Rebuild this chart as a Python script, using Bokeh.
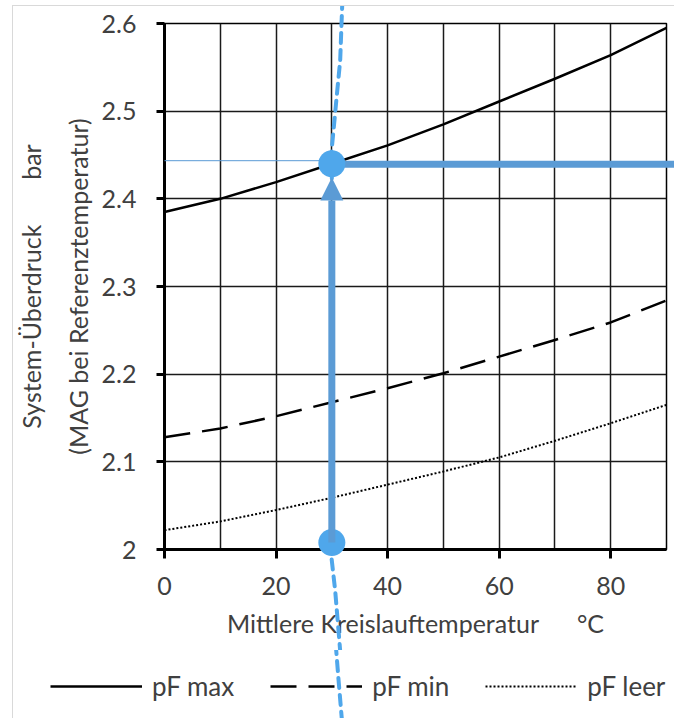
import numpy as np
from bokeh.plotting import figure
from bokeh.layouts import column
from bokeh.models import (FixedTicker, CustomJSTickFormatter, Legend, LegendItem,
                          Arrow, NormalHead, Range1d)
from bokeh.embed import file_html
from bokeh.resources import INLINE

# ---------------- data ----------------
temps = [0, 10, 20, 30, 40, 50, 60, 70, 80, 90]
pf_max = [2.385, 2.400, 2.419, 2.440, 2.461, 2.485, 2.511, 2.537, 2.564, 2.595]
pf_min = [2.128, 2.138, 2.152, 2.168, 2.184, 2.201, 2.220, 2.239, 2.259, 2.284]
pf_leer = [2.022, 2.032, 2.045, 2.059, 2.074, 2.089, 2.105, 2.124, 2.144, 2.165]

x_ticks = [0, 20, 40, 60, 80]
x_grid = [0, 10, 20, 30, 40, 50, 60, 70, 80, 90]
y_ticks = [2.0, 2.1, 2.2, 2.3, 2.4, 2.5, 2.6]

# reading example: chosen temperature and resulting pressure
sel_t = 30
sel_p = 2.44
start_p = 2.008
arrow_tip_p = 2.4244
thin_p = 2.4435
thick_p = 2.4395
thick_end_t = 93

# blue dashed guide curve (hand drawn in the original)
guide_t = [31.9, 31.5, 30.8, 30.3, 29.95, 30.0, 30.0, 29.95, 30.6, 31.35, 31.9, 32.5]
guide_p = [2.628, 2.558, 2.512, 2.478, 2.455, 2.440, 2.008, 1.990, 1.953, 1.896, 1.851, 1.805]

labels = ["pF max", "pF min", "pF leer"]

FONT = "Lato"
TXT = "#404040"
BLUE = "#5B9BD5"
BLUE2 = "#4FA7EB"
NB = "\u00a0"

# ---------------- layout constants ----------------
W = 661
H_MAIN = 644
H_LEG = 68
B_LEFT, B_RIGHT, B_TOP, B_BOTTOM = 145, 8, 17, 101
X0, X1 = 0, 90
Y0, Y1 = 2.0, 2.6

p = figure(width=W, height=H_MAIN, x_range=(X0, X1), y_range=(Y0, Y1),
           output_backend="svg", toolbar_location=None,
           min_border_left=B_LEFT, min_border_right=B_RIGHT, min_border_top=B_TOP,
           min_border_bottom=B_BOTTOM, border_fill_color="white",
           background_fill_color="white")

p.outline_line_color = "black"
p.outline_line_width = 1.5

# axes
p.xaxis.ticker = FixedTicker(ticks=x_ticks)
p.yaxis.ticker = FixedTicker(ticks=y_ticks)
p.xgrid.ticker = FixedTicker(ticks=x_grid)
p.ygrid.ticker = FixedTicker(ticks=y_ticks)
p.yaxis.formatter = CustomJSTickFormatter(code="return tick.toFixed(1).replace(/\\.0$/, '')")
for g in (p.xgrid, p.ygrid):
    g.grid_line_color = "#1a1a1a"
    g.grid_line_width = 1.5

for ax in (p.xaxis, p.yaxis):
    ax.axis_line_color = "black"
    ax.axis_line_width = 3
    ax.major_tick_line_color = "black"
    ax.major_tick_line_width = 3
    ax.major_tick_in = 0
    ax.minor_tick_line_color = None
    ax.major_label_text_font = FONT
    ax.major_label_text_font_size = "25px"
    ax.major_label_text_color = TXT
    ax.axis_label_text_font = FONT
    ax.axis_label_text_font_size = "25px"
    ax.axis_label_text_font_style = "normal"
    ax.axis_label_text_color = TXT

p.xaxis.major_tick_out = 9
p.yaxis.major_tick_out = 8
p.xaxis.major_label_standoff = 18
p.yaxis.major_label_standoff = 20
p.xaxis.axis_label = "Mittlere Kreislauftemperatur" + NB * 5 + " °C"
p.xaxis.axis_label_standoff = 10
p.yaxis.axis_label = "System-Überdruck" + NB * 6 + " bar\n(MAG bei Referenztemperatur)"
p.yaxis.axis_label_standoff = 6
p.yaxis.axis_label_text_line_height = 1.55

# series
styles = [dict(line_color="black", line_width=2.5),
          dict(line_color="black", line_width=2.5, line_dash="26 12"),
          dict(line_color="black", line_width=2, line_dash="2 2")]
series = [pf_max, pf_min, pf_leer]
for s, st in zip(series, styles):
    p.line(temps, s, **st)

# reading annotation
p.line([0, sel_t], [thin_p, thin_p], line_color=BLUE, line_width=1, level="overlay")
p.line([sel_t, thick_end_t], [thick_p, thick_p], line_color=BLUE, line_width=7,
       level="overlay")
p.add_layout(Arrow(x_start=sel_t, y_start=start_p, x_end=sel_t, y_end=arrow_tip_p,
                   end=NormalHead(size=23, fill_color=BLUE, line_color=None),
                   line_color=BLUE, line_width=7, level="overlay"))
p.line(guide_t, guide_p, line_color=BLUE2, line_width=4, line_dash="10 7",
       line_cap="round", level="overlay")
p.scatter([sel_t, sel_t], [start_p, sel_p], size=27, fill_color=BLUE2,
          line_color=None, level="overlay")

# ---------------- legend strip (continues the same scales) ----------------
fw = W - B_LEFT - B_RIGHT
fh = H_MAIN - B_TOP - B_BOTTOM
sx = (X1 - X0) / fw
sy = (Y1 - Y0) / fh
leg_x = Range1d(X0 - B_LEFT * sx, X1 + B_RIGHT * sx)
leg_top = Y0 - B_BOTTOM * sy
leg_y = Range1d(leg_top - H_LEG * sy, leg_top)

p2 = figure(width=W, height=H_LEG, x_range=leg_x, y_range=leg_y,
            output_backend="svg", toolbar_location=None,
            x_axis_location=None, y_axis_location=None,
            min_border=0, border_fill_color="white", background_fill_color="white")
try:
    p2.frame_align = False
except Exception:
    pass
p2.outline_line_color = None
p2.grid.visible = False

rs = [p2.line(temps, s, **st) for s, st in zip(series, styles)]
p2.line(guide_t, guide_p, line_color=BLUE2, line_width=4, line_dash="10 7",
        line_cap="round", level="overlay")

legend = Legend(items=[LegendItem(label=l, renderers=[r]) for l, r in zip(labels, rs)],
                orientation="horizontal", location=(37, 16),
                glyph_width=92, glyph_height=20, label_standoff=10, spacing=36,
                padding=10, margin=0, border_line_color=None, background_fill_alpha=0,
                label_text_font=FONT, label_text_font_size="26px",
                label_text_color=TXT)
p2.add_layout(legend, "center")

layout = column(p, p2, spacing=0, margin=(6, 0, 0, 13),
                styles={"outline": "1px solid #d9d9d9"})

open("out.html", "w").write(file_html(layout, INLINE))
